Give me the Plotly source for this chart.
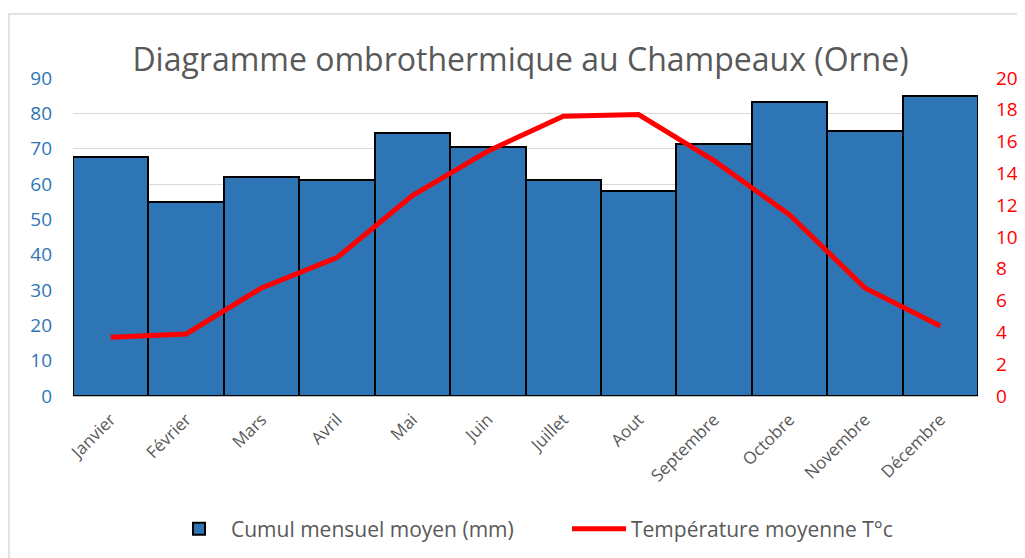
import plotly.graph_objects as go

months = ["Janvier", "Février", "Mars", "Avril", "Mai", "Juin", "Juillet",
          "Aout", "Septembre", "Octobre", "Novembre", "Décembre"]
precip_mm = [67.7, 55.0, 62.0, 61.0, 74.4, 70.5, 61.0, 58.0, 71.3, 83.2, 75.0, 85.0]
temp_c = [3.7, 3.9, 6.8, 8.7, 12.6, 15.4, 17.6, 17.7, 14.8, 11.4, 6.8, 4.4]

left_ticks = list(range(0, 100, 10))
right_ticks = list(range(0, 22, 2))

FONT = "Open Sans"
BLUE = "#2E75B6"
GRAY = "#595959"

W, H = 1025, 550
L, T = 65, 70
PR, PB = 970, 388  # plot right / bottom in figure coords

fig = go.Figure()
fig.add_trace(go.Bar(
    x=months, y=precip_mm, name="Cumul mensuel moyen (mm)",
    marker=dict(color=BLUE, line=dict(color="black", width=2)),
    yaxis="y", legend="legend",
))
fig.add_trace(go.Scatter(
    x=months, y=temp_c, name="Température moyenne T°c",
    mode="lines", line=dict(color="#FF0000", width=5),
    yaxis="y2", legend="legend2",
))

pw = PR - L
ph = PB - T

legend_common = dict(orientation="h", xref="container", yref="container",
                     xanchor="left", y=1 - 521 / H, yanchor="middle",
                     font=dict(size=21, color=GRAY), itemwidth=54,
                     bgcolor="rgba(0,0,0,0)")

fig.update_layout(
    width=W, height=H,
    margin=dict(l=L, r=W - PR, t=T, b=H - PB, autoexpand=False),
    paper_bgcolor="white", plot_bgcolor="white",
    bargap=0,
    font=dict(family=FONT, color=GRAY, size=16),
    title=dict(text="Diagramme ombrothermique au Champeaux (Orne)",
               x=0.5, xanchor="center", y=1 - 52 / H, yanchor="middle",
               font=dict(family=FONT, size=32, color=GRAY)),
    xaxis=dict(tickangle=-45, showgrid=False, showline=True,
               linecolor="#BFBFBF", linewidth=1, ticks="",
               tickfont=dict(size=17, color=GRAY), ticklabelstandoff=6),
    yaxis=dict(range=[0, 90], tickvals=left_ticks, showgrid=True,
               gridcolor="#D9D9D9", gridwidth=1, zeroline=False,
               tickfont=dict(size=19, color=BLUE), ticklabelstandoff=20),
    yaxis2=dict(range=[0, 20], tickvals=right_ticks, overlaying="y",
                side="right", showgrid=False, zeroline=False,
                tickfont=dict(size=19, color="#FF0000"), ticklabelstandoff=17),
    legend=dict(x=159 / W, **legend_common),
    legend2=dict(x=559 / W, **legend_common),
    showlegend=True,
    shapes=[dict(type="rect", xref="paper", yref="paper",
                 x0=(1 - L) / pw, x1=(1040 - L) / pw,
                 y0=(PB - 580) / ph, y1=(PB - 6) / ph,
                 line=dict(color="#D9D9D9", width=1.5), layer="below")],
)

fig.write_html("out.html")
